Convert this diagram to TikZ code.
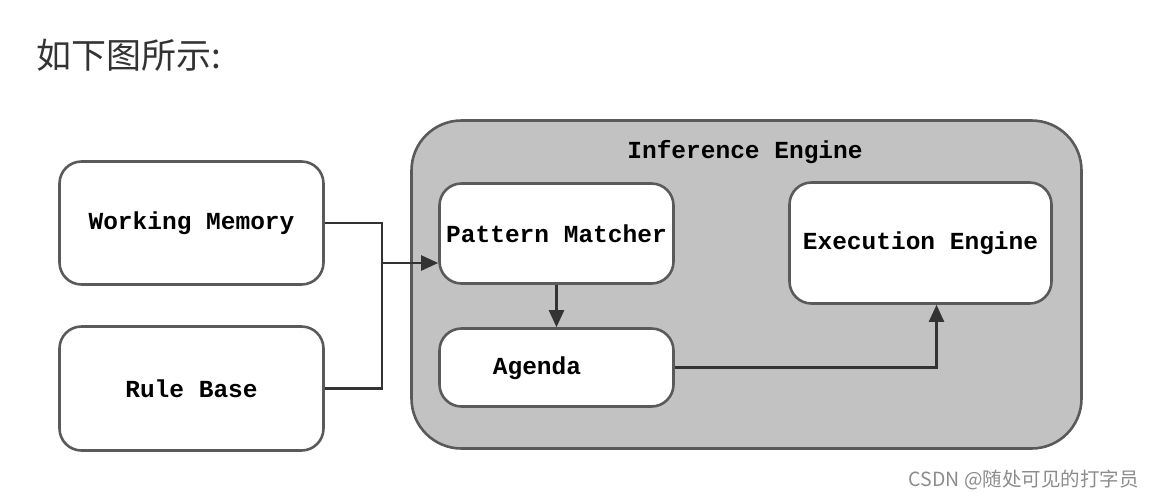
\documentclass[tikz,border=0pt]{standalone}
\usepackage{fontspec}
\usetikzlibrary{arrows.meta}
\newfontfamily\boxfont{Liberation Mono}
\newfontfamily\cjkfont{Noto Sans CJK SC}
\definecolor{linegray}{HTML}{5A5A5A}
\definecolor{enginegray}{HTML}{C2C2C2}

\begin{document}
\begin{tikzpicture}[x=1pt,y=-1pt,
  box/.style={draw=linegray,line width=2.6pt,fill=white,rounded corners=22pt,
    inner sep=0pt,font=\boxfont\bfseries\fontsize{24.5}{26}\selectfont},
  link/.style={draw=black!80,line width=2.2pt},
  arr/.style={link,-{Triangle[length=17pt,width=15pt]}}]
\useasboundingbox (0,0) rectangle (1154,499);

% Heading
\node[font=\cjkfont\fontsize{35}{38}\selectfont,text=black!80,anchor=west,inner sep=0pt] (title) at (36,55) {如下图所示:};

% Inference engine
\node[draw=linegray,line width=2.6pt,fill=enginegray,rounded corners=50pt,
  minimum width=670pt,minimum height=328pt] (engine) at (746.5,284.5) {};
\node[font=\boxfont\bfseries\fontsize{24.5}{26}\selectfont] (enginelbl) at (745,152) {Inference Engine};

% Boxes
\node[box,minimum width=264pt,minimum height=123pt] (wm) at (191.5,223) {Working Memory};
\node[box,minimum width=264pt,minimum height=124pt] (rb) at (191.5,388.5) {Rule Base};
\node[box,minimum width=234pt,minimum height=100pt] (pm) at (556.5,233.5) {Pattern Matcher};
\node[box,minimum width=234pt,minimum height=78pt] (agenda) at (556.5,367.5) {};
\node[font=\boxfont\bfseries\fontsize{24.5}{26}\selectfont] (agendalbl) at (537,368) {Agenda};
\node[box,minimum width=262pt,minimum height=121pt] (ee) at (920.5,243) {Execution Engine};

% Connectors
\coordinate (join) at (382,263);
\draw[link] (wm.east) -| (join);
\draw[link] (rb.east) -| (join);
\draw[arr] (join) -- (join -| pm.west);
\draw[arr] (pm) -- (agenda);
\draw[arr] (agenda.east) -| ([xshift=16pt]ee.south);

% Watermark
\node[font=\cjkfont\fontsize{19.5}{21}\selectfont,text=black!45,anchor=east,inner sep=0pt] (mark) at (1139,480) {CSDN @随处可见的打字员};
\end{tikzpicture}
\end{document}
